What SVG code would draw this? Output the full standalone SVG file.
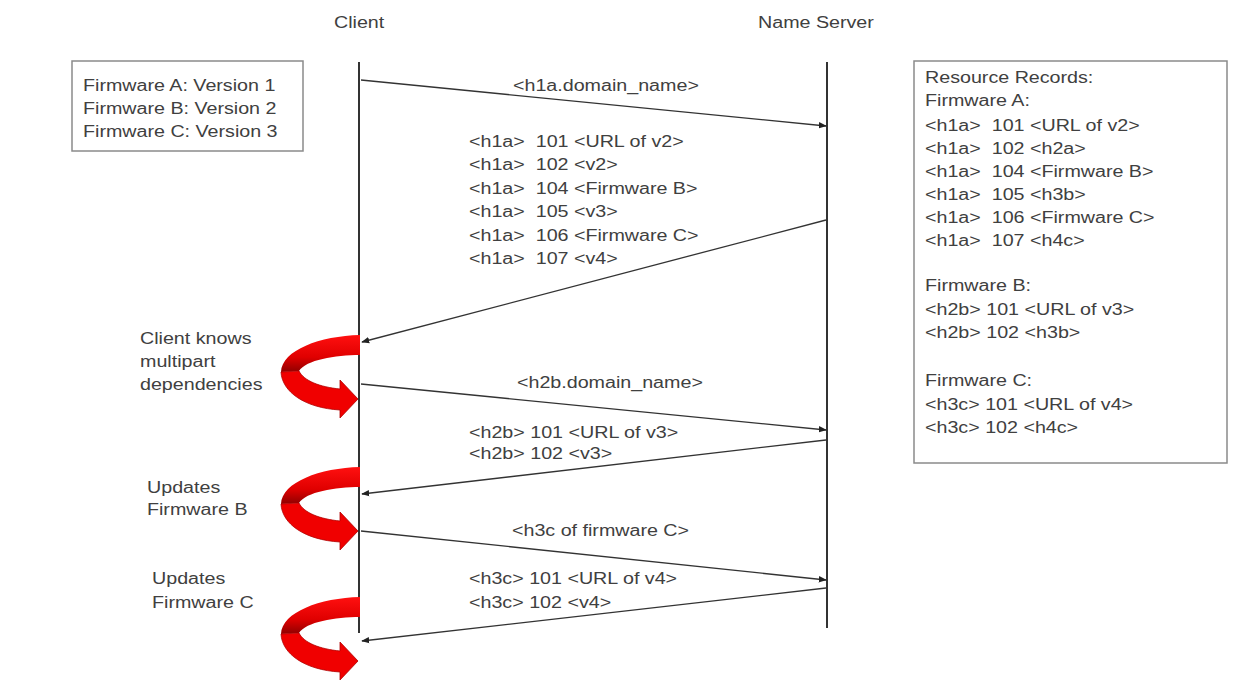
<svg xmlns="http://www.w3.org/2000/svg" width="1244" height="681" viewBox="0 0 1244 681">
<defs>
<style>
text{font-family:"Liberation Sans",Arial,sans-serif;font-size:16px;fill:#404040;white-space:pre;transform-box:fill-box;transform-origin:0 50%;transform:scaleX(1.23)}
.box{fill:#fff;stroke:#8a8a8a;stroke-width:1.5}
.life{stroke:#333;stroke-width:2;fill:none}
.msg{stroke:#333;stroke-width:1.3;fill:none;marker-end:url(#ah)}
.band{fill:url(#gTop)}
.head{fill:#f00000;stroke:#b00000;stroke-width:0.8}
</style>
<marker id="ah" viewBox="0 0 10 10" refX="9" refY="5" markerWidth="8" markerHeight="8" markerUnits="userSpaceOnUse" orient="auto">
<path d="M0,1 L10,5 L0,9 Z" fill="#222"/>
</marker>
<linearGradient id="gTop" x1="0" y1="0" x2="0" y2="1">
<stop offset="0" stop-color="#ff1010"/>
<stop offset="0.6" stop-color="#e00000"/>
<stop offset="1" stop-color="#900000"/>
</linearGradient>
<g id="turn">
<path class="band" d="M360,0 L360,20 C335,20 306,25 299,36 L281,37 C282,15 320,1 360,0 Z"/>
<path class="head" d="M281,37 C282,57 305,73 340,75 L340,83 L358,64 L340,45 L340,54 C320,52 304,46 299,36 Z"/>
</g>
</defs>
<rect width="1244" height="681" fill="#fff"/>

<text x="334" y="28">Client</text>
<text x="758" y="28">Name Server</text>

<g id="firmware-box">
<rect class="box" x="72" y="61" width="231" height="90"/>
<text x="83" y="91">Firmware A: Version 1</text>
<text x="83" y="114">Firmware B: Version 2</text>
<text x="83" y="137">Firmware C: Version 3</text>
</g>

<g id="records-box">
<rect class="box" x="914" y="61" width="313" height="402"/>
<text x="925" y="83">Resource Records:</text>
<text x="925" y="106">Firmware A:</text>
<text x="925" y="131">&lt;h1a&gt;  101 &lt;URL of v2&gt;</text>
<text x="925" y="154">&lt;h1a&gt;  102 &lt;h2a&gt;</text>
<text x="925" y="177">&lt;h1a&gt;  104 &lt;Firmware B&gt;</text>
<text x="925" y="200">&lt;h1a&gt;  105 &lt;h3b&gt;</text>
<text x="925" y="223">&lt;h1a&gt;  106 &lt;Firmware C&gt;</text>
<text x="925" y="246">&lt;h1a&gt;  107 &lt;h4c&gt;</text>
<text x="925" y="291">Firmware B:</text>
<text x="925" y="315">&lt;h2b&gt; 101 &lt;URL of v3&gt;</text>
<text x="925" y="338">&lt;h2b&gt; 102 &lt;h3b&gt;</text>
<text x="925" y="386">Firmware C:</text>
<text x="925" y="410">&lt;h3c&gt; 101 &lt;URL of v4&gt;</text>
<text x="925" y="433">&lt;h3c&gt; 102 &lt;h4c&gt;</text>
</g>

<g id="client">
<line class="life" x1="359" y1="62" x2="359" y2="633"/>
</g>
<g id="name-server">
<line class="life" x1="827" y1="62" x2="827" y2="628"/>
</g>

<g id="connectors">
<line class="msg" x1="361" y1="80" x2="826" y2="126"/>
<line class="msg" x1="826" y1="220" x2="362" y2="342"/>
<line class="msg" x1="361" y1="384" x2="826" y2="430"/>
<line class="msg" x1="826" y1="440" x2="362" y2="494"/>
<line class="msg" x1="361" y1="531" x2="826" y2="580"/>
<line class="msg" x1="826" y1="588" x2="362" y2="641"/>
</g>

<g id="labels">
<text x="513" y="91">&lt;h1a.domain_name&gt;</text>
<text x="469" y="147">&lt;h1a&gt;  101 &lt;URL of v2&gt;</text>
<text x="469" y="170">&lt;h1a&gt;  102 &lt;v2&gt;</text>
<text x="469" y="194">&lt;h1a&gt;  104 &lt;Firmware B&gt;</text>
<text x="469" y="217">&lt;h1a&gt;  105 &lt;v3&gt;</text>
<text x="469" y="241">&lt;h1a&gt;  106 &lt;Firmware C&gt;</text>
<text x="469" y="264">&lt;h1a&gt;  107 &lt;v4&gt;</text>
<text x="517" y="388">&lt;h2b.domain_name&gt;</text>
<text x="469" y="438">&lt;h2b&gt; 101 &lt;URL of v3&gt;</text>
<text x="469" y="459">&lt;h2b&gt; 102 &lt;v3&gt;</text>
<text x="512" y="536">&lt;h3c of firmware C&gt;</text>
<text x="469" y="584">&lt;h3c&gt; 101 &lt;URL of v4&gt;</text>
<text x="469" y="608">&lt;h3c&gt; 102 &lt;v4&gt;</text>
</g>

<g id="step-1">
<use href="#turn" transform="translate(0,335)"/>
<text x="140" y="344">Client knows</text>
<text x="140" y="367">multipart</text>
<text x="140" y="390">dependencies</text>
</g>
<g id="step-2">
<use href="#turn" transform="translate(0,467)"/>
<text x="147" y="493">Updates</text>
<text x="147" y="515">Firmware B</text>
</g>
<g id="step-3">
<use href="#turn" transform="translate(0,597)"/>
<text x="152" y="584">Updates</text>
<text x="152" y="608">Firmware C</text>
</g>
</svg>
